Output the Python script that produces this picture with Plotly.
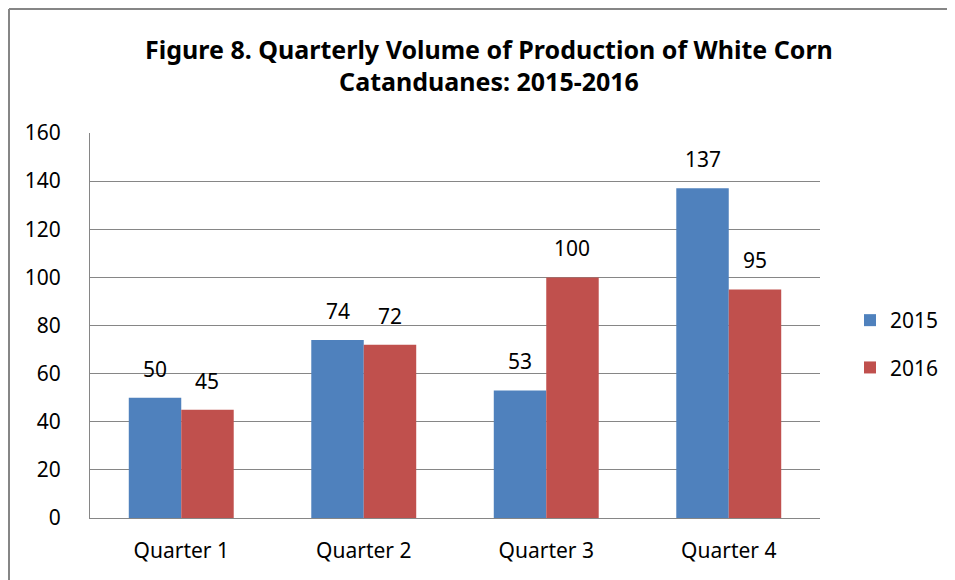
import plotly.graph_objects as go

# data
quarters = ['Quarter 1', 'Quarter 2', 'Quarter 3', 'Quarter 4']
vol_2015 = [50, 74, 53, 137]
vol_2016 = [45, 72, 100, 95]
y_ticks = [0, 20, 40, 60, 80, 100, 120, 140, 160]

# page body adds an 8px offset, so margins are trimmed by that much
W, H = 955, 580
L, T = 82, 125
pw, ph = 730, 385
R, B = W - L - pw, H - T - ph

fnt = 'Noto Sans'
fs = 21

fig = go.Figure()
fig.add_trace(go.Bar(x=quarters, y=vol_2015, name='2015', legendgroup='a',
                     marker_color='#4F81BD', marker_line_width=0))
fig.add_trace(go.Bar(x=quarters, y=vol_2016, name='2016', legendgroup='b',
                     marker_color='#C0504D', marker_line_width=0))

# value labels above the bars
half = pw / len(quarters) * 0.575 / 4
for q, a, b in zip(quarters, vol_2015, vol_2016):
    fig.add_annotation(x=q, y=a, text=str(a), xshift=-half, yshift=13, yanchor='bottom',
                       showarrow=False, font=dict(size=fs, color='#000000'))
    fig.add_annotation(x=q, y=b, text=str(b), xshift=half, yshift=13, yanchor='bottom',
                       showarrow=False, font=dict(size=fs, color='#000000'))

# outer chart border: only top and left edges show in the crop
bx0 = (1 - L) / pw
by1 = (T + ph - 1) / ph
border = dict(color='#868686', width=2)
fig.add_shape(type='line', xref='paper', yref='paper', x0=bx0, x1=(W + 20 - L) / pw,
              y0=by1, y1=by1, line=border)
fig.add_shape(type='line', xref='paper', yref='paper', x0=bx0, x1=bx0,
              y0=(T + ph - H - 20) / ph, y1=by1, line=border)

fig.update_layout(
    width=W, height=H,
    margin=dict(l=L, r=R, t=T, b=B),
    paper_bgcolor='white', plot_bgcolor='white',
    font=dict(family=fnt, size=fs, color='#000000'),
    title=dict(text='<b>Figure 8. Quarterly Volume of Production of White Corn<br>Catanduanes: 2015-2016</b>',
               x=481 / W, xanchor='center', y=1 - 50.5 / H, yanchor='middle',
               font=dict(family=fnt, size=25, color='#000000')),
    barmode='group', bargap=0.425, bargroupgap=0,
    showlegend=True,
    legend=dict(x=(850 - 8 - L) / pw, xanchor='left', y=(T + ph - 344 + 8) / ph, yanchor='middle',
                font=dict(size=fs), tracegroupgap=17, traceorder='grouped',
                bgcolor='rgba(0,0,0,0)'),
)
fig.update_xaxes(showgrid=False, showline=True, linecolor='#868686', linewidth=1,
                 ticks='', ticklabelstandoff=14, tickfont=dict(size=fs))
fig.update_yaxes(range=[0, 160], tickvals=y_ticks, showgrid=True, gridcolor='#868686',
                 gridwidth=1, showline=True, linecolor='#868686', linewidth=1,
                 ticks='', ticklabelstandoff=24, tickfont=dict(size=fs), zeroline=False)

fig.write_html('out.html')
